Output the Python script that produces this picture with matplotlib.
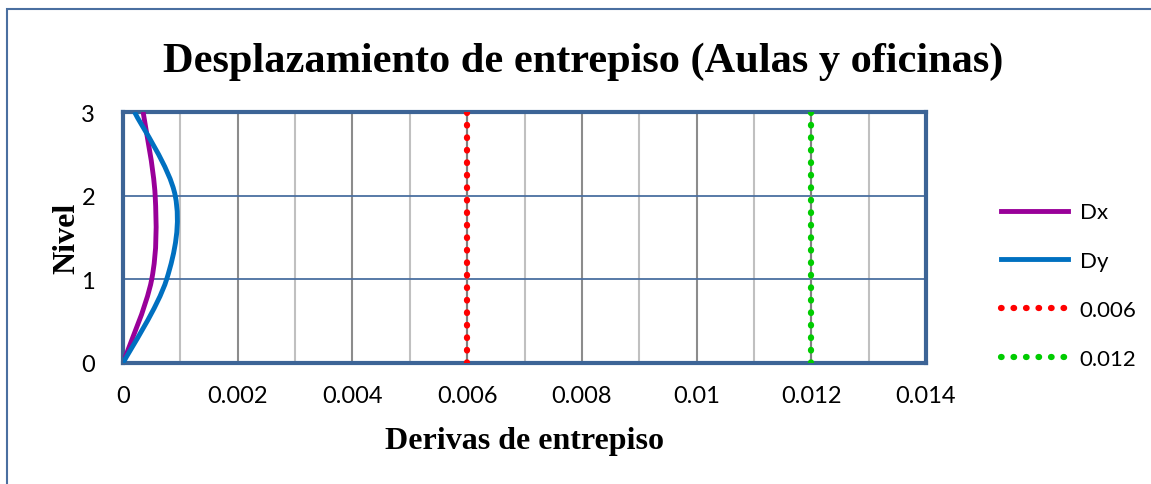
import numpy as np
import matplotlib.pyplot as plt
from matplotlib.path import Path
from matplotlib.patches import PathPatch, Rectangle
from matplotlib.lines import Line2D

# ====== 資料 ======
nivel = [0, 1, 2, 3]
dx = [0.0, 0.00050, 0.00056, 0.00035]
dy = [0.0, 0.00076, 0.00091, 0.00020]
limite_1 = 0.006
limite_2 = 0.012
x_ticks = [0, 0.002, 0.004, 0.006, 0.008, 0.01, 0.012, 0.014]
x_ticklabels = ["0", "0.002", "0.004", "0.006", "0.008", "0.01", "0.012", "0.014"]
y_ticks = [0, 1, 2, 3]

serif = "Liberation Serif"
sans = "Lato"
dots = (0, (0.1, 1.9))


def smooth_path(xs, ys):
    # curva suavizada tipo Excel (Bezier cúbica, Catmull-Rom)
    pts = np.column_stack([xs, ys])
    n = len(pts)
    verts = [pts[0]]
    codes = [Path.MOVETO]
    for i in range(n - 1):
        p0 = pts[max(i - 1, 0)]
        p1 = pts[i]
        p2 = pts[i + 1]
        p3 = pts[min(i + 2, n - 1)]
        c1 = p1 + (p2 - p0) / 6.0
        c2 = p2 - (p3 - p1) / 6.0
        verts += [c1, c2, p2]
        codes += [Path.CURVE4] * 3
    return Path(verts, codes)


fig = plt.figure(figsize=(11.51, 4.85), dpi=100)
ax = fig.add_axes([0.1069, 0.2495, 0.6976, 0.5175])

# borde del gráfico
fig.patches.append(Rectangle((7 / 1151, -0.1), 1.2, 1 - 10 / 485 + 0.1,
                             transform=fig.transFigure, fill=False,
                             edgecolor="#4a6fa0", linewidth=1.5))

ax.set_xlim(0, 0.014)
ax.set_ylim(0, 3)

# rejilla
for v in np.arange(0.001, 0.014, 0.002):
    ax.axvline(v, color="#c0c0c0", linewidth=1.5, zorder=0)
for v in np.arange(0.002, 0.014, 0.002):
    ax.axvline(v, color="#8c8c8c", linewidth=1.5, zorder=0)
for v in [1, 2]:
    ax.axhline(v, color="#4a6fa0", linewidth=1.3, zorder=0)

ax.add_patch(PathPatch(smooth_path(dx, nivel), facecolor="none",
                       edgecolor="#990099", linewidth=3.5, zorder=3))
ax.add_patch(PathPatch(smooth_path(dy, nivel), facecolor="none",
                       edgecolor="#0070c0", linewidth=3.5, zorder=3))

ax.plot([limite_1, limite_1], [0, 3], color="#808080", linewidth=1.5, zorder=2)
ax.plot([limite_1, limite_1], [0, 3], color="#ff0000", linestyle=dots,
        linewidth=4.5, dash_capstyle="round", zorder=3)
ax.plot([limite_2, limite_2], [0, 3], color="#808080", linewidth=1.5, zorder=2)
ax.plot([limite_2, limite_2], [0, 3], color="#00cc00", linestyle=dots,
        linewidth=4.5, dash_capstyle="round", zorder=3)

for s in ax.spines.values():
    s.set_color("#3c6496")
    s.set_linewidth(3)

ax.set_xticks(x_ticks)
ax.set_xticklabels(x_ticklabels)
ax.set_yticks(y_ticks)
ax.tick_params(length=0, labelsize=17)
ax.tick_params(axis="x", pad=16)
ax.tick_params(axis="y", pad=20)
for lab in ax.get_xticklabels() + ax.get_yticklabels():
    lab.set_fontfamily(sans)

ax.set_xlabel("Derivas de entrepiso", fontfamily=serif, fontweight="bold",
              fontsize=23, labelpad=14)
ax.set_ylabel("Nivel", fontfamily=serif, fontweight="bold", fontsize=23,
              labelpad=0)
fig.text(0.507, 0.872, "Desplazamiento de entrepiso (Aulas y oficinas)",
         ha="center", va="center", fontfamily=serif, fontweight="bold",
         fontsize=30.5)

handles = [
    Line2D([], [], color="#990099", linewidth=3.5),
    Line2D([], [], color="#0070c0", linewidth=3.5),
    Line2D([], [], color="#ff0000", linestyle=dots, linewidth=4.5,
           dash_capstyle="round"),
    Line2D([], [], color="#00cc00", linestyle=dots, linewidth=4.5,
           dash_capstyle="round"),
]
leg = fig.legend(handles, ["Dx", "Dy", "0.006", "0.012"],
                 loc="center left", bbox_to_anchor=(0.852, 0.409),
                 frameon=False, handlelength=3.05, handletextpad=0.5,
                 labelspacing=1.3, prop={"family": sans, "size": 16})

fig.savefig("out.png", dpi=100)
plt.close()
